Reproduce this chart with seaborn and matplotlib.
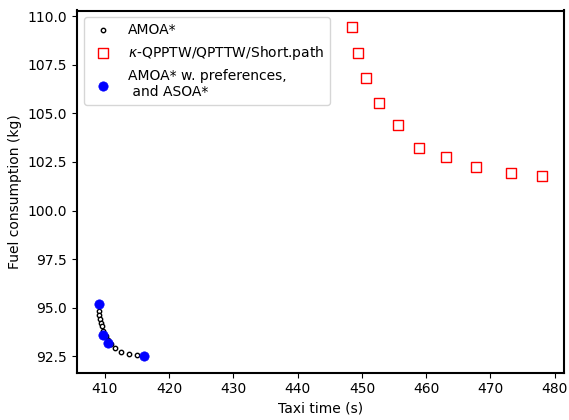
import numpy as np
import pandas as pd
import matplotlib
matplotlib.use('Agg')
import matplotlib.pyplot as plt
import seaborn as sns

# AMOA* pareto front (black open circles)
amoa_time = [409.07, 409.07, 409.14, 409.25, 409.38, 409.49, 409.77, 410.16, 410.54,
             410.93, 411.56, 412.57, 413.74, 414.93, 416.1]
amoa_fuel = [95.19, 94.82, 94.64, 94.44, 94.23, 94.08, 93.79, 93.56, 93.36,
             93.15, 92.92, 92.74, 92.62, 92.56, 92.52]

# k-QPPTW / QPTTW / shortest path (red squares)
qpptw_time = [448.40, 449.34, 450.68, 452.61, 455.61, 458.88, 463.13, 467.75, 473.15, 478.07]
qpptw_fuel = [109.44, 108.12, 106.84, 105.51, 104.38, 103.21, 102.73, 102.23, 101.93, 101.77]

# AMOA* w. preferences and ASOA* (blue dots)
pref_time = [409.07, 409.72, 410.5, 416.1]
pref_fuel = [95.19, 93.60, 93.21, 92.52]

df_amoa = pd.DataFrame({'t': amoa_time, 'f': amoa_fuel})
df_q = pd.DataFrame({'t': qpptw_time, 'f': qpptw_fuel})
df_p = pd.DataFrame({'t': pref_time, 'f': pref_fuel})

plt.rcParams['font.family'] = ['DejaVu Sans']

fig, ax = plt.subplots(figsize=(5.69, 4.20), dpi=100)
fig.subplots_adjust(left=0.135, right=0.992, top=0.975, bottom=0.113)

sns.scatterplot(data=df_amoa, x='t', y='f', ax=ax, marker='o', s=10,
                facecolor='white', edgecolor='black', linewidth=1.0,
                label='AMOA*', zorder=2)
sns.scatterplot(data=df_q, x='t', y='f', ax=ax, marker='s', s=45,
                facecolor='white', edgecolor='red', linewidth=1.0,
                label=r'$\kappa$-QPPTW/QPTTW/Short.path', zorder=2)
sns.scatterplot(data=df_p, x='t', y='f', ax=ax, marker='o', s=45,
                color='blue', edgecolor='blue', linewidth=0.5,
                label='AMOA* w. preferences,\n and ASOA*', zorder=3)

ax.set_xlabel('Taxi time (s)')
ax.set_ylabel('Fuel consumption (kg)')
ax.set_xticks(np.arange(410, 481, 10))
ax.set_yticks(np.arange(92.5, 110.1, 2.5))
ax.yaxis.set_major_formatter(matplotlib.ticker.FormatStrFormatter('%.1f'))

for sp in ax.spines.values():
    sp.set_linewidth(1.5)

ax.legend(loc='upper left', fancybox=True, framealpha=0.8, edgecolor='#cccccc')

plt.savefig('out.png', dpi=100)
